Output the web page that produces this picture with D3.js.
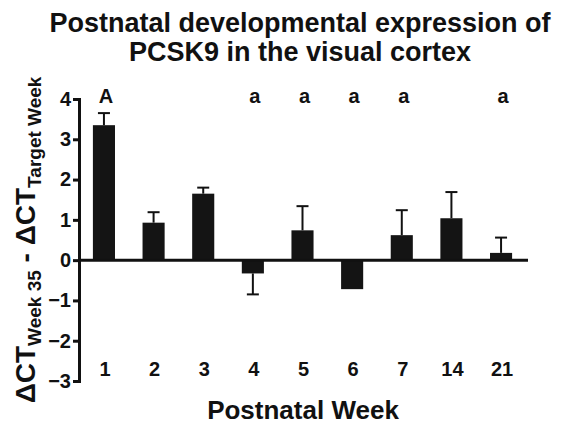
<!DOCTYPE html>
<html>
<head>
<meta charset="utf-8">
<script src="https://cdn.jsdelivr.net/npm/d3@7"></script>
<style>
  body { margin: 0; background: #fff; }
  text { font-family: "Liberation Sans", Arial, sans-serif; font-weight: bold; fill: #111; }
</style>
</head>
<body>
<div id="chart"></div>
<script>
// data
const weeks = ["1", "2", "3", "4", "5", "6", "7", "14", "21"];
const means = [3.35, 0.93, 1.65, -0.33, 0.74, -0.72, 0.62, 1.04, 0.18];
const errs = [0.3, 0.26, 0.15, 0.52, 0.6, 0.0, 0.62, 0.65, 0.38];
const letters = ["A", "", "", "a", "a", "a", "a", "", "a"];
const yTicks = [4, 3, 2, 1, 0, -1, -2, -3];

let width = 561;
let height = 434;
let margin = { top: 99, bottom: 53, left: 79, right: 35 };

let svg = d3.select('#chart')
            .append('svg')
            .attr('width', width)
            .attr('height', height);

let yScale = d3.scaleLinear()
               .domain([-3, 4])
               .range([height - margin.bottom, margin.top]);

let xScale = d3.scaleBand()
               .domain(weeks)
               .range([margin.left, 526])
               .paddingInner(0.555)
               .paddingOuter(0.28);

// title
svg.append('text')
   .attr('x', 300).attr('y', 32)
   .attr('text-anchor', 'middle')
   .style('font-size', '27px')
   .text('Postnatal developmental expression of');
svg.append('text')
   .attr('x', 300).attr('y', 61)
   .attr('text-anchor', 'middle')
   .style('font-size', '27px')
   .text('PCSK9 in the visual cortex');

// bars
svg.selectAll('.bar')
   .data(weeks)
   .enter()
   .append('rect')
   .attr('x', d => xScale(d))
   .attr('width', xScale.bandwidth())
   .attr('y', (d, i) => yScale(Math.max(0, means[i])))
   .attr('height', (d, i) => Math.abs(yScale(means[i]) - yScale(0)))
   .attr('fill', '#141414');

// error bars, one-sided away from zero
weeks.forEach((w, i) => {
  if (errs[i] <= 0) return;
  const cx = xScale(w) + xScale.bandwidth() / 2;
  const end = means[i] >= 0 ? means[i] + errs[i] : means[i] - errs[i];
  svg.append('line')
     .attr('x1', cx).attr('x2', cx)
     .attr('y1', yScale(means[i])).attr('y2', yScale(end))
     .attr('stroke', '#111').attr('stroke-width', 2);
  svg.append('line')
     .attr('x1', cx - 6).attr('x2', cx + 6)
     .attr('y1', yScale(end)).attr('y2', yScale(end))
     .attr('stroke', '#111').attr('stroke-width', 2);
});

// zero line
svg.append('line')
   .attr('x1', margin.left).attr('x2', 528)
   .attr('y1', yScale(0)).attr('y2', yScale(0))
   .attr('stroke', '#111').attr('stroke-width', 3);

// y axis
let yAxis = svg.append('g')
   .attr('transform', `translate(${margin.left}, 0)`)
   .call(d3.axisLeft(yScale).tickValues(yTicks).tickSize(6).tickPadding(2).tickFormat(d3.format('d')));
yAxis.select('.domain').attr('stroke', '#111').attr('stroke-width', 3);
yAxis.selectAll('.tick line').attr('stroke', '#111').attr('stroke-width', 3);
yAxis.selectAll('.tick text')
     .style('font-size', '20px')
     .style('font-family', '"Liberation Sans", Arial, sans-serif')
     .style('font-weight', 'bold')
     .attr('fill', '#111');

// week labels
svg.selectAll('.wk')
   .data(weeks)
   .enter()
   .append('text')
   .attr('x', d => xScale(d) + xScale.bandwidth() / 2 + 1)
   .attr('y', 376)
   .attr('text-anchor', 'middle')
   .style('font-size', '20px')
   .text(d => d);

// significance letters
svg.selectAll('.sig')
   .data(weeks)
   .enter()
   .append('text')
   .attr('x', d => xScale(d) + xScale.bandwidth() / 2 + 2)
   .attr('y', 103)
   .attr('text-anchor', 'middle')
   .style('font-size', '20px')
   .text((d, i) => letters[i]);

// x axis title
svg.append('text')
   .attr('x', 303).attr('y', 419)
   .attr('text-anchor', 'middle')
   .style('font-size', '26px')
   .text('Postnatal Week');

// y axis title with subscripts
let ylab = svg.append('text')
   .attr('transform', 'translate(35, 240) rotate(-90)')
   .attr('text-anchor', 'middle')
   .style('font-size', '28px');
ylab.append('tspan').text('\u0394CT');
ylab.append('tspan').attr('dy', 6).style('font-size', '19px').text('Week 35');
ylab.append('tspan').attr('dy', -6).text(' - \u0394CT');
ylab.append('tspan').attr('dy', 6).style('font-size', '19px').text('Target Week');
</script>
</body>
</html>
